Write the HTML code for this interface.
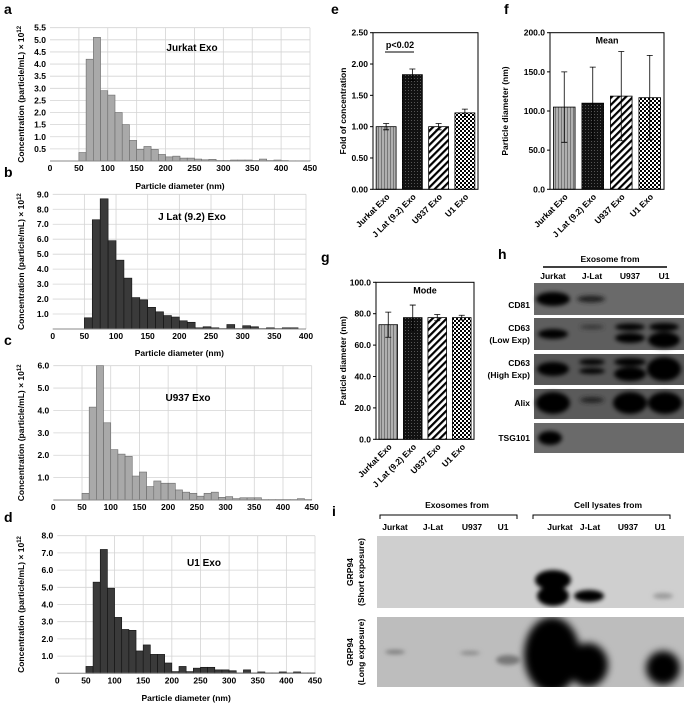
<!DOCTYPE html>
<html><head><meta charset="utf-8"><style>
html,body{margin:0;padding:0;background:#fff;}
svg{display:block;font-family:"Liberation Sans",sans-serif;font-weight:bold;}
</style></head><body>
<svg id="fig" width="684" height="706" viewBox="0 0 684 706" xmlns="http://www.w3.org/2000/svg">
<defs>
<pattern id="pJur" width="3" height="3" patternUnits="userSpaceOnUse"><rect width="3" height="3" fill="#b0b0b0"/><rect width="1" height="3" fill="#777"/></pattern>
<pattern id="pJL" width="3" height="3" patternUnits="userSpaceOnUse"><rect width="3" height="3" fill="#111"/><rect width="1" height="1" fill="#555"/></pattern>
<pattern id="pU9" width="5" height="5" patternUnits="userSpaceOnUse" patternTransform="rotate(45)"><rect width="5" height="5" fill="#fff"/><rect width="2.2" height="5" fill="#000"/></pattern>
<pattern id="pU1" width="4" height="4" patternUnits="userSpaceOnUse"><rect width="4" height="4" fill="#000"/><rect width="2" height="2" fill="#fff"/><rect x="2" y="2" width="2" height="2" fill="#fff"/></pattern>
<filter id="bl2"><feGaussianBlur stdDeviation="2"/></filter>
<filter id="bl4"><feGaussianBlur stdDeviation="4"/></filter>
</defs>
<g id="hist"></g><g id="bars"></g>

<text x="4" y="14" font-size="14">a</text>
<text x="4" y="177" font-size="14">b</text>
<text x="4" y="345" font-size="14">c</text>
<text x="4" y="522" font-size="14">d</text>
<text x="331" y="14" font-size="14">e</text>
<text x="504" y="14" font-size="14">f</text>
<text x="321" y="262" font-size="14">g</text>
<text x="498" y="259" font-size="14">h</text>
<text x="332" y="516" font-size="14">i</text>

<g font-size="8.5">
<text x="610" y="262" text-anchor="middle">Exosome from</text>
<line x1="543" y1="267" x2="667" y2="267" stroke="#000" stroke-width="1.5"/>
<text x="553" y="279" text-anchor="middle">Jurkat</text>
<text x="592" y="279" text-anchor="middle">J-Lat</text>
<text x="630" y="279" text-anchor="middle">U937</text>
<text x="664" y="279" text-anchor="middle">U1</text>
<text x="530" y="308" text-anchor="end">CD81</text>
<text x="530" y="331" text-anchor="end">CD63</text>
<text x="530" y="343" text-anchor="end">(Low Exp)</text>
<text x="530" y="366" text-anchor="end">CD63</text>
<text x="530" y="378" text-anchor="end">(High Exp)</text>
<text x="530" y="406" text-anchor="end">Alix</text>
<text x="530" y="441" text-anchor="end">TSG101</text>
<rect x="534" y="283" width="150" height="32" fill="#6a6a6a"/>
<rect x="534" y="318" width="150" height="32" fill="#5e5e5e"/>
<rect x="534" y="354" width="150" height="31" fill="#575757"/>
<rect x="534" y="389" width="150" height="30" fill="#5a5a5a"/>
<rect x="534" y="423" width="150" height="30" fill="#6a6a6a"/>
<g filter="url(#bl2)" fill="#050505">
<ellipse cx="553" cy="299" rx="17" ry="7"/><ellipse cx="591" cy="299" rx="14" ry="3.5" fill="#222"/>
<ellipse cx="553" cy="334" rx="15" ry="5"/><ellipse cx="592" cy="327" rx="12" ry="2" fill="#333"/>
<ellipse cx="630" cy="327" rx="15" ry="3.5"/><ellipse cx="630" cy="338" rx="15" ry="5"/>
<ellipse cx="664" cy="327" rx="15" ry="4"/><ellipse cx="664" cy="340" rx="16" ry="8"/>
<ellipse cx="553" cy="369" rx="16" ry="7"/><ellipse cx="592" cy="362" rx="13" ry="3"/><ellipse cx="592" cy="371" rx="13" ry="3"/>
<ellipse cx="630" cy="362" rx="16" ry="4"/><ellipse cx="630" cy="374" rx="16" ry="7"/><ellipse cx="664" cy="369" rx="17" ry="12"/>
<ellipse cx="553" cy="403" rx="17" ry="11"/><ellipse cx="592" cy="400" rx="12" ry="3" fill="#222"/>
<ellipse cx="630" cy="403" rx="17" ry="11"/><ellipse cx="665" cy="403" rx="17" ry="11"/>
<ellipse cx="550" cy="438" rx="12" ry="7"/>
</g>
</g>

<g font-size="8.5">
<text x="457" y="508" text-anchor="middle">Exosomes from</text>
<path d="M380,519 V515 H517 V519" fill="none" stroke="#000" stroke-width="1"/>
<text x="608" y="508" text-anchor="middle">Cell lysates from</text>
<path d="M533,519 V515 H670 V519" fill="none" stroke="#000" stroke-width="1"/>
<text x="395" y="530" text-anchor="middle">Jurkat</text><text x="433" y="530" text-anchor="middle">J-Lat</text>
<text x="472" y="530" text-anchor="middle">U937</text><text x="503" y="530" text-anchor="middle">U1</text>
<text x="560" y="530" text-anchor="middle">Jurkat</text><text x="590" y="530" text-anchor="middle">J-Lat</text>
<text x="628" y="530" text-anchor="middle">U937</text><text x="660" y="530" text-anchor="middle">U1</text>
<text transform="translate(353,572) rotate(-90)" text-anchor="middle">GRP94</text>
<text transform="translate(364,572) rotate(-90)" text-anchor="middle">(Short exposure)</text>
<text transform="translate(353,652) rotate(-90)" text-anchor="middle">GRP94</text>
<text transform="translate(364,652) rotate(-90)" text-anchor="middle">(Long exposure)</text>
<rect x="377" y="536" width="307" height="72" fill="#cfcfcf"/>
<rect x="377" y="617" width="307" height="70" fill="#bdbdbd"/>
<g filter="url(#bl2)" fill="#050505">
<ellipse cx="553" cy="580" rx="18" ry="10"/><ellipse cx="553" cy="596" rx="16" ry="10"/>
<ellipse cx="589" cy="596" rx="15" ry="6"/><ellipse cx="663" cy="596" rx="10" ry="3" fill="#999"/>
<ellipse cx="395" cy="652" rx="10" ry="2" fill="#777"/><ellipse cx="470" cy="653" rx="10" ry="2" fill="#888"/>
<ellipse cx="508" cy="660" rx="12" ry="5" fill="#777"/>
</g>
<g filter="url(#bl4)" fill="#000">
<ellipse cx="552" cy="655" rx="28" ry="38"/><ellipse cx="588" cy="665" rx="20" ry="22"/>
<ellipse cx="663" cy="668" rx="17" ry="17"/>
</g>
<rect x="377" y="687" width="307" height="19" fill="#fff"/>
<rect x="377" y="608" width="307" height="9" fill="#fff"/>
</g>
</svg>

<script>
var binStarts = [50,62.5,75,87.5,100,112.5,125,137.5,150,162.5,175,187.5,200,212.5,225,237.5,250,262.5,275,287.5,300,312.5,325,337.5,350,362.5,375,387.5,400,412.5,425,437.5];
var binWidth = 12.5;
var jurkatConc = [0.35,4.2,5.1,2.9,2.72,2.0,1.5,0.85,0.48,0.6,0.48,0.27,0.17,0.2,0.12,0.12,0.08,0.05,0.07,0.02,0.02,0.04,0.04,0.04,0.02,0.08,0.02,0.04,0.02,0.01,0.01,0.01];
var jlatConc = [0.75,7.3,8.7,5.9,4.6,3.4,2.1,1.95,1.45,1.15,0.9,0.8,0.55,0.45,0.08,0.15,0.08,0.03,0.3,0.03,0.22,0.15,0.03,0.08,0.03,0.08,0.08,0,0,0,0,0];
var u937Conc = [0.3,4.15,6.0,3.45,2.25,2.05,1.95,1.07,1.25,0.6,0.85,0.75,0.75,0.45,0.35,0.3,0.17,0.3,0.35,0.12,0.15,0.06,0.1,0.1,0.1,0.02,0.02,0.02,0.02,0.02,0.06,0.02];
var u1Conc = [0.4,5.3,7.2,4.95,3.25,2.55,2.5,1.3,1.65,1.1,1.1,0.6,0.1,0.4,0.1,0.3,0.35,0.35,0.2,0.2,0.15,0.02,0.2,0.02,0.08,0.02,0.02,0.08,0.02,0.08,0.02,0.02];
var xTicksA = [0,50,100,150,200,250,300,350,400,450];
var xTicksB = [0,50,100,150,200,250,300,350,400];
var yTicksA = [0.5,1.0,1.5,2.0,2.5,3.0,3.5,4.0,4.5,5.0,5.5];
var yTicksB = [1,2,3,4,5,6,7,8,9];
var yTicksC = [1,2,3,4,5,6];
var yTicksD = [1,2,3,4,5,6,7,8];
var groups = ['Jurkat Exo','J Lat (9.2) Exo','U937 Exo','U1 Exo'];
var foldVals = [1.0,1.83,1.0,1.22];
var foldErr = [0.05,0.09,0.05,0.06];
var meanVals = [105,110,119,117];
var meanErr = [45,46,57,54];
var modeVals = [73,77.5,77.5,77.5];
var modeErr = [8,8,2,1.5];
var yTicksE = [0,0.5,1.0,1.5,2.0,2.5];
var yTicksF = [0,50,100,150,200];
var yTicksG = [0,20,40,60,80,100];

var NS='http://www.w3.org/2000/svg';
function mk(tag, attrs, parent){var e=document.createElementNS(NS,tag);for(var k in attrs)e.setAttribute(k,attrs[k]);parent.appendChild(e);return e;}

function drawHist(L, vals, xTicks, yTicks, dec, fill, stroke, title, name){
  var g=mk('g',{},document.getElementById('hist'));
  
  
  var sx=function(v){return L.x0+(v/L.xmax)*(L.x1-L.x0);};
  var sy=function(v){return L.y0-(v/L.ymax)*(L.y0-L.yt);};
  xTicks.forEach(function(t){
    if(t>0) mk('line',{x1:sx(t),x2:sx(t),y1:L.yt,y2:L.y0,stroke:'#d4d4d4','stroke-width':0.8},g);
    var tx=mk('text',{x:sx(t),y:L.y0+10,'font-size':8.5,'text-anchor':'middle'},g);
    tx.textContent=t;
    
    
  });
  yTicks.forEach(function(t){
    mk('line',{x1:L.x0,x2:L.x1,y1:sy(t),y2:sy(t),stroke:'#d4d4d4','stroke-width':0.8},g);
    var ty=mk('text',{x:L.x0-4,y:sy(t)+3,'font-size':8.5,'text-anchor':'end'},g);
    ty.textContent=t.toFixed(dec);
    
    
  });
  for(var i=0;i<binStarts.length;i++){
    if(!vals[i]) continue;
    var x=sx(binStarts[i]), w=sx(binStarts[i]+binWidth)-x, y=sy(vals[i]);
    var r=mk('rect',{x:x,y:y,width:w,height:L.y0-y,fill:fill,stroke:stroke,'stroke-width':0.6},g);
    
    
  }
  mk('line',{x1:L.x0,x2:L.x1,y1:L.y0,y2:L.y0,stroke:'#888','stroke-width':1},g);
  var tt=mk('text',{x:L.tx,y:L.ty,'font-size':10,'text-anchor':'middle'},g);
  tt.textContent=title;
  
  
  var yt=mk('text',{transform:'translate(24,'+((L.y0+L.yt)/2)+') rotate(-90)','font-size':8.5,'text-anchor':'middle'},g);
  yt.textContent='Concentration (particle/mL) \u00d7 10';
  var sup=mk('tspan',{'font-size':6,dy:-3},yt);sup.textContent='12';
  
  
  if(L.xt){
    var xt=mk('text',{x:(L.x0+L.x1)/2,y:L.xt,'font-size':8.5,'text-anchor':'middle'},g);
    xt.textContent='Particle diameter (nm)';
    
    
  }
}
drawHist({x0:50,x1:310,xmax:450,y0:161,yt:27.7,ymax:5.5,tx:192,ty:51,xt:189},jurkatConc,xTicksA,yTicksA,1,'#a9a9a9','#6a6a6a','Jurkat Exo','histogram-jurkat');
drawHist({x0:52.7,x1:306,xmax:400,y0:329,yt:194.3,ymax:9,tx:192,ty:220,xt:356},jlatConc,xTicksB,yTicksB,1,'#3a3a3a','#111','J Lat (9.2) Exo','histogram-jlat');
drawHist({x0:53.3,x1:311.7,xmax:450,y0:500,yt:365.7,ymax:6,tx:188,ty:401,xt:0},u937Conc,xTicksA,yTicksC,1,'#a9a9a9','#6a6a6a','U937 Exo','histogram-u937');
drawHist({x0:57.3,x1:315,xmax:450,y0:673.3,yt:535.7,ymax:8,tx:204,ty:566,xt:701},u1Conc,xTicksA,yTicksD,1,'#3a3a3a','#111','U1 Exo','histogram-u1');

var fills=['url(#pJur)','url(#pJL)','url(#pU9)','url(#pU1)'];
function drawBars(L, vals, errs, yTicks, dec, ytitle, title, name){
  var g=mk('g',{},document.getElementById('bars'));
  
  
  var sy=function(v){return L.y0-(v/L.ymax)*(L.y0-L.yt);};
  var band=(L.x1-L.x0)/groups.length;
  yTicks.forEach(function(t){
    mk('line',{x1:L.x0-3,x2:L.x0,y1:sy(t),y2:sy(t),stroke:'#000'},g);
    var ty=mk('text',{x:L.x0-5,y:sy(t)+3,'font-size':8.5,'text-anchor':'end'},g);
    ty.textContent=t.toFixed(dec);
    
    
  });
  for(var i=0;i<groups.length;i++){
    var cx=L.x0+band*(i+0.5), w=band*0.76, y=sy(vals[i]);
    var r=mk('rect',{x:cx-w/2,y:y,width:w,height:L.y0-y,fill:fills[i],stroke:'#000','stroke-width':0.8},g);
    
    
    var ye=sy(vals[i]+errs[i]), yl=sy(vals[i]-errs[i]);
    var e=mk('path',{d:'M'+cx+','+yl+'V'+ye+'M'+(cx-3)+','+ye+'H'+(cx+3)+'M'+(cx-3)+','+yl+'H'+(cx+3),stroke:'#000','stroke-width':0.8,fill:'none'},g);
    
    
    var lb=mk('text',{transform:'translate('+(cx+4)+','+(L.y0+8)+') rotate(-45)','font-size':8.5,'text-anchor':'end'},g);
    lb.textContent=groups[i];
    
    
  }
  mk('rect',{x:L.x0,y:L.yt,width:L.x1-L.x0,height:L.y0-L.yt,fill:'none',stroke:'#000','stroke-width':1},g);
  var yt=mk('text',{transform:'translate('+L.ytx+','+((L.y0+L.yt)/2)+') rotate(-90)','font-size':8.5,'text-anchor':'middle'},g);
  yt.textContent=ytitle;
  
  
  if(title){
    var tt=mk('text',{x:(L.x0+L.x1)/2,y:L.yt+11,'font-size':9,'text-anchor':'middle'},g);
    tt.textContent=title;
    
    
  }
}
drawBars({x0:373,x1:478,y0:189.3,yt:32.7,ymax:2.5,ytx:346},foldVals,foldErr,yTicksE,2,'Fold of concentration','','bar-chart-fold');
drawBars({x0:550,x1:664,y0:189.3,yt:32.7,ymax:200,ytx:508},meanVals,meanErr,yTicksF,1,'Particle diameter (nm)','Mean','bar-chart-mean');
drawBars({x0:376,x1:474,y0:439.3,yt:282.3,ymax:100,ytx:346},modeVals,modeErr,yTicksG,1,'Particle diameter (nm)','Mode','bar-chart-mode');

var bg=document.getElementById('bars');
var pl=mk('line',{x1:385,x2:414,y1:52,y2:52,stroke:'#000','stroke-width':1},bg);


var pt=mk('text',{x:400,y:48,'font-size':9,'text-anchor':'middle'},bg);
pt.textContent='p<0.02';


</script>
</body></html>
